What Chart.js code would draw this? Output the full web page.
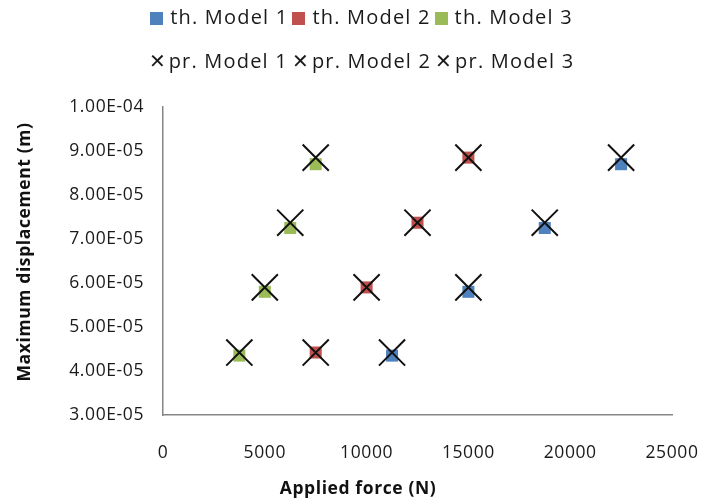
<!DOCTYPE html>
<html>
<head>
<meta charset="utf-8">
<script src="https://cdn.jsdelivr.net/npm/chart.js@4/dist/chart.umd.min.js"></script>
<style>
  html, body { margin: 0; padding: 0; background: #fff; }
  #wrap { position: relative; width: 709px; height: 502px; }
  canvas { position: absolute; left: 0; top: 0; }
  .legend-row { position: absolute; left: 7px; width: 709px; text-align: center;
    font-family: "Open Sans", sans-serif; font-size: 20px; letter-spacing: 1.2px; color: #1a1a1a;
    white-space: nowrap; line-height: 24px; }
  .item { display: inline-block; margin: 0 2px; }
  .sw { display: inline-block; width: 13px; height: 13px; margin-right: 7px; vertical-align: -1px; }
  .xm { display: inline-block; margin-right: 3px; font-size: 20px; letter-spacing: 0; }
</style>
</head>
<body>
<div id="wrap">
  <canvas id="c" width="709" height="502"></canvas>
  <div class="legend-row" id="row1" style="top:5px"></div>
  <div class="legend-row" id="row2" style="top:49px"></div>
</div>
<script>
// Applied force (N) for each model
const forceModel1 = [11250, 15000, 18750, 22500];
const forceModel2 = [7500, 10000, 12500, 15000];
const forceModel3 = [3750, 5000, 6250, 7500];

// Maximum displacement (m), theoretical
const thModel1 = [4.35e-5, 5.80e-5, 7.25e-5, 8.70e-5];
const thModel2 = [4.42e-5, 5.90e-5, 7.37e-5, 8.85e-5];
const thModel3 = [4.35e-5, 5.80e-5, 7.25e-5, 8.70e-5];

// Maximum displacement (m), predicted
const prModel1 = [4.42e-5, 5.90e-5, 7.37e-5, 8.85e-5];
const prModel2 = [4.42e-5, 5.90e-5, 7.37e-5, 8.85e-5];
const prModel3 = [4.42e-5, 5.90e-5, 7.37e-5, 8.85e-5];

// Axis ticks
const xTicks = [0, 5000, 10000, 15000, 20000, 25000];
const yTicks = [3e-5, 4e-5, 5e-5, 6e-5, 7e-5, 8e-5, 9e-5, 1e-4];

const thNames = ['th. Model 1', 'th. Model 2', 'th. Model 3'];
const prNames = ['pr. Model 1', 'pr. Model 2', 'pr. Model 3'];
const colors = ['#4F81BD', '#C0504D', '#9BBB59'];
const xTitle = 'Applied force (N)';
const yTitle = 'Maximum displacement (m)';

const pts = (xs, ys) => xs.map((x, i) => ({ x: x, y: ys[i] }));
const forces = [forceModel1, forceModel2, forceModel3];
const ths = [thModel1, thModel2, thModel3];
const prs = [prModel1, prModel2, prModel3];

const datasets = [];
for (let i = 0; i < 3; i++) {
  datasets.push({
    label: thNames[i], data: pts(forces[i], ths[i]), showLine: false, order: 2,
    pointStyle: 'rect', pointRadius: 8.5, pointHoverRadius: 8.5,
    backgroundColor: colors[i], borderColor: colors[i], borderWidth: 0
  });
}
for (let i = 0; i < 3; i++) {
  datasets.push({
    label: prNames[i], data: pts(forces[i], prs[i]), showLine: false, order: 1,
    pointStyle: 'crossRot', pointRadius: 18.5, pointHoverRadius: 18.5,
    backgroundColor: '#000', borderColor: '#111', borderWidth: 2
  });
}

// Excel-style scientific label, e.g. 4.00E-05
function sci(v) {
  const parts = v.toExponential(2).toUpperCase().split('E');
  const e = parseInt(parts[1], 10);
  const ae = Math.abs(e);
  return parts[0] + 'E' + (e < 0 ? '-' : '+') + (ae < 10 ? '0' + ae : String(ae));
}

const font = "'Open Sans', sans-serif";
const axisGrey = '#868686';

// wider letter spacing on canvas text
const spacingPlugin = {
  id: 'spacing',
  beforeDraw(chart) { chart.ctx.letterSpacing = '0.6px'; }
};

// axis titles, centred on the whole figure like a spreadsheet chart
const axisTitles = {
  id: 'axisTitles',
  afterDraw(chart) {
    const ctx = chart.ctx;
    ctx.save();
    ctx.fillStyle = '#111';
    ctx.font = "bold 17.5px 'Open Sans', sans-serif";
    ctx.textAlign = 'center';
    ctx.textBaseline = 'middle';
    ctx.fillText(xTitle, 358, 489);
    ctx.translate(25, 252);
    ctx.rotate(-Math.PI / 2);
    ctx.fillText(yTitle, 0, 0);
    ctx.restore();
  }
};

new Chart(document.getElementById('c'), {
  type: 'scatter',
  data: { datasets: datasets },
  plugins: [spacingPlugin, axisTitles],
  options: {
    responsive: false,
    animation: false,
    devicePixelRatio: 1,
    layout: { padding: { top: 107, right: 37, left: 8, bottom: 0 } },
    plugins: { legend: { display: false }, tooltip: { enabled: false } },
    scales: {
      x: {
        type: 'linear', min: 0, max: 25000,
        afterBuildTicks: (s) => { s.ticks = xTicks.map(v => ({ value: v })); },
        afterFit: (s) => { s.height = 87; s.paddingLeft = 0; s.paddingRight = 0; },
        grid: { display: false, drawTicks: true, tickLength: 6, tickColor: axisGrey },
        border: { display: true, color: axisGrey, width: 1.5 },
        ticks: { color: '#1a1a1a', font: { family: font, size: 17.5 }, padding: 22, maxRotation: 0,
                 callback: (v) => String(v) },
        title: { display: false }
      },
      y: {
        type: 'linear', min: 3e-5, max: 1e-4,
        afterBuildTicks: (s) => { s.ticks = yTicks.map(v => ({ value: v })); },
        afterFit: (s) => { s.width = 155; },
        grid: { display: false, drawTicks: true, tickLength: 6, tickColor: axisGrey },
        border: { display: true, color: axisGrey, width: 1.5 },
        ticks: { color: '#1a1a1a', font: { family: font, size: 17.5 }, padding: 13,
                 callback: (v) => sci(v) },
        title: { display: false }
      }
    }
  }
});

// Legend rows
const r1 = document.getElementById('row1');
const r2 = document.getElementById('row2');
thNames.forEach((n, i) => {
  const s = document.createElement('span'); s.className = 'item';
  s.innerHTML = '<span class="sw" style="background:' + colors[i] + '"></span>' + n;
  r1.appendChild(s);
});
prNames.forEach((n) => {
  const s = document.createElement('span'); s.className = 'item';
  s.innerHTML = '<span class="xm">\u2715</span>' + n;
  r2.appendChild(s);
});
</script>
</body>
</html>
